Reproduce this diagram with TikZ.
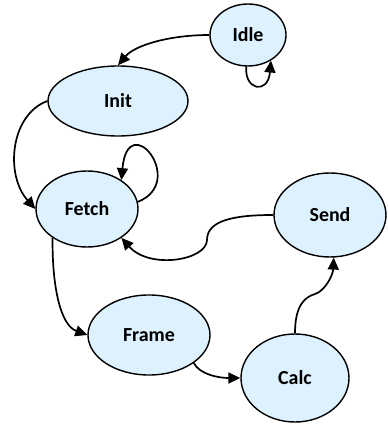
\documentclass[tikz,border=0pt]{standalone}
\usepackage{fontspec}
\setmainfont{Carlito}
\usetikzlibrary{arrows.meta,shapes.geometric}
\definecolor{statefill}{RGB}{221,241,254}
\tikzset{
  state/.style={ellipse, draw=black, line width=1.4bp, fill=statefill,
    inner sep=0pt, font=\bfseries\fontsize{20}{24}\selectfont},
  trans/.style={line width=1.7bp, -{Triangle[length=12bp,width=11bp]}},
}
\begin{document}
\begin{tikzpicture}[x=1bp,y=1bp]
\useasboundingbox (0,0) rectangle (388,425);
% states
\node[state, minimum width=76bp, minimum height=62bp] (idle)  at (248,390) {Idle};
\node[state, minimum width=140bp, minimum height=70bp] (init)  at (118,324) {Init};
\node[state, minimum width=102bp, minimum height=76bp] (fetch) at (87,216) {Fetch};
\node[state, minimum width=112bp, minimum height=84bp] (send)  at (330,210) {Send};
\node[state, minimum width=122bp, minimum height=80bp] (frame) at (149,90) {Frame};
\node[state, minimum width=108bp, minimum height=88bp] (calc)  at (295,47) {Calc};
% bend points of the two wavy transitions
\coordinate (m1) at (207,185);
\coordinate (m2) at (315,131);
% transitions
\draw[trans] (idle.west) .. controls (170,390) and (135,380) .. (init.north);
\draw[trans] (idle.-93) .. controls (244,335) and (268,330) .. (idle.-48);
\draw[trans] (init.west) .. controls (10,310) and (5,250) .. (fetch.west);
\draw[trans] (fetch.8) .. controls (188,243) and (128,318) .. (fetch.40);
\draw[trans] (send.west) .. controls (235,210) and (207,205) .. (m1)
  .. controls (207,165) and (150,155) .. (fetch.-40);
\draw[trans] (fetch.-140) .. controls (52,140) and (60,100) .. (frame.west);
\draw[trans] (frame.-32) .. controls (200,50) and (220,47) .. (calc.west);
\draw[trans] (calc.north) .. controls (295,120) and (305,128) .. (m2)
  .. controls (325,134) and (333,150) .. (send.-85);
\end{tikzpicture}
\end{document}
